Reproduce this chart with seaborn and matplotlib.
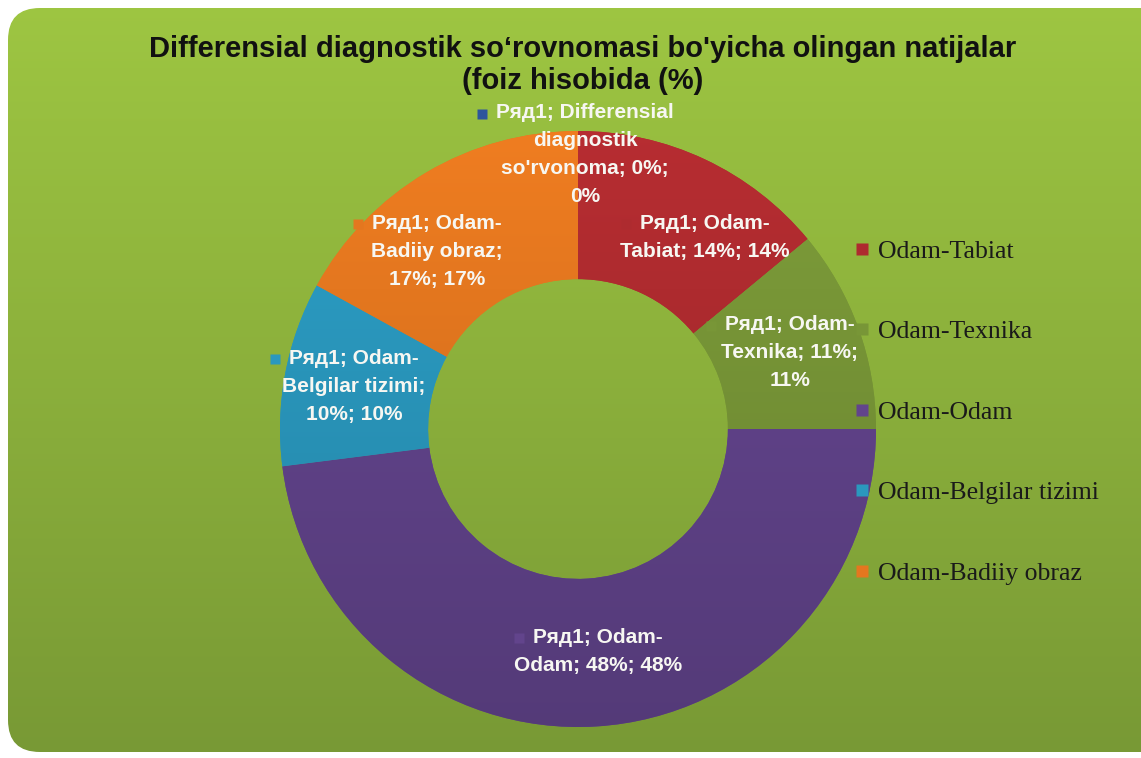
import numpy as np
import matplotlib
matplotlib.use('Agg')
import matplotlib.pyplot as plt
import seaborn as sns
from matplotlib.patches import FancyBboxPatch
from matplotlib.lines import Line2D

sns.set_theme(style='white')
plt.rcParams['font.family'] = ['Liberation Sans', 'DejaVu Sans']

# ma'lumotlar
categories = ['Differensial diagnostik so\'rovnoma', 'Odam-Tabiat', 'Odam-Texnika',
              'Odam-Odam', 'Odam-Belgilar tizimi', 'Odam-Badiiy obraz']
values = [0, 14, 11, 48, 10, 17]
label_texts = ["Ряд1; Differensial\ndiagnostik\nso'rvonoma; 0%;\n0%",
               "Ряд1; Odam-\nTabiat; 14%; 14%",
               "Ряд1; Odam-\nTexnika; 11%;\n11%",
               "Ряд1; Odam-\nOdam; 48%; 48%",
               "Ряд1; Odam-\nBelgilar tizimi;\n10%; 10%",
               "Ряд1; Odam-\nBadiiy obraz;\n17%; 17%"]
colors = sns.color_palette(['#2d559c', '#ae2b2f', '#789637', '#62448c', '#2a98be', '#e4771f'])
title = "Differensial diagnostik so\u2018rovnomasi bo'yicha olingan natijalar\n(foiz hisobida (%)"

W, H = 1141, 758
fig = plt.figure(figsize=(W / 100, H / 100), dpi=100)
fig.patch.set_facecolor('white')

# fon: yashil gradient, yumaloq burchak
bg = fig.add_axes([0, 0, 1, 1])
bg.set_xlim(0, 1)
bg.set_ylim(0, 1)
bg.axis('off')
grad = np.linspace(0, 1, 256)[:, None]
top = np.array([158, 198, 66]) / 255
bot = np.array([120, 153, 53]) / 255
img = top[None, None, :] * (1 - grad[:, :, None]) + bot[None, None, :] * grad[:, :, None]
im = bg.imshow(img, extent=(0, 1, 0, 1), aspect='auto', origin='upper')
box = FancyBboxPatch((8 / W, 6 / H), 1.05, 1 - 14 / H,
                     boxstyle='round,pad=0,rounding_size=0.028', mutation_aspect=W / H,
                     transform=bg.transAxes, facecolor='none', edgecolor='none')
bg.add_patch(box)
im.set_clip_path(box)

# donut
cx, cy, R = 578, 429, 298
ax = fig.add_axes([(cx - 301) / W, (H - cy - 301) / H, 602 / W, 602 / H])
ax.set_facecolor('none')
wedges, _ = ax.pie(values, colors=colors, startangle=90, counterclock=False, radius=1,
                   wedgeprops=dict(width=0.497, edgecolor='none'))
ax.set_aspect('equal')
ax.axis('off')

# bo'laklarga yengil gradient
shade = np.linspace(1.05, 0.86, 256)[:, None, None]
for w, c in zip(wedges, colors):
    g = np.clip(np.array(c)[None, None, :] * shade, 0, 1)
    gi = ax.imshow(g, extent=(-1, 1, -1, 1), aspect='auto', origin='upper', zorder=1.5)
    gi.set_clip_path(w)
ax.set_xlim(-301 / R, 301 / R)
ax.set_ylim(-301 / R, 301 / R)

# yorliqlar
nudge = [1.5, 8.3, 0, -1.5, 0, -7.8]
dist = [0.92, 0.772, 0.755, 0.748, 0.765, 0.762]
texts = []
start = 0
total = sum(values)
for v, lab, nd, d in zip(values, label_texts, nudge, dist):
    mid = (start + v / 2) / total * 360 + nd
    start += v
    a = np.deg2rad(90 - mid)
    t = ax.text(d * np.cos(a), d * np.sin(a), lab, ha='center', va='center',
                color='#f7f7f2', fontsize=15, fontweight='bold', linespacing=1.6, zorder=4)
    texts.append(t)

fig.canvas.draw()
rend = fig.canvas.get_renderer()
inv = ax.transData.inverted()
for t, c in zip(texts, colors):
    first = t.get_text().split('\n')[0]
    probe = ax.text(0, 0, first, fontsize=15, fontweight='bold')
    pb = probe.get_window_extent(rend)
    probe.remove()
    bb = t.get_window_extent(rend)
    xp = (bb.x0 + bb.x1) / 2 - pb.width / 2 - 14
    yp = bb.y1 - pb.height / 2 - 1
    x, y = inv.transform((xp, yp))
    ax.plot(x, y, marker='s', ms=7, color=c, mec='none', zorder=4, clip_on=False)

# legenda
handles = [Line2D([], [], marker='s', ls='none', ms=8, color=c, mec='none') for c in colors[1:]]
leg = fig.legend(handles, categories[1:], loc='center left', bbox_to_anchor=(0.749, 0.456),
                 frameon=False, handlelength=0.6, handletextpad=0.3, labelspacing=2.24,
                 borderaxespad=0, borderpad=0,
                 prop=dict(family='Liberation Serif', size=18.5))
for txt in leg.get_texts():
    txt.set_color('#1a1a1a')

fig.text(0.511, 1 - 65 / H, title, ha='center', va='center', fontsize=21,
         fontweight='bold', color='#111111', linespacing=1.2)

fig.savefig('out.png', dpi=100)
